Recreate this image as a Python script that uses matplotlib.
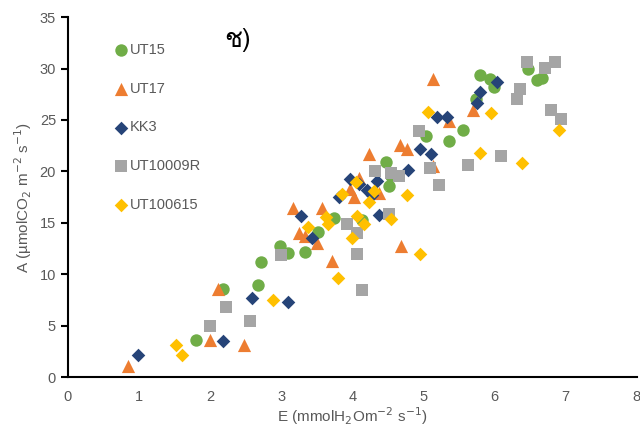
import matplotlib
matplotlib.use("Agg")
import matplotlib.pyplot as plt
from matplotlib import font_manager
from matplotlib.ft2font import FT2Font

# data (E, A)
ut15_x = [1.80, 2.18, 2.67, 2.72, 2.98, 3.10, 3.34, 3.52, 3.74, 4.14, 4.47, 4.51, 4.54,
          5.03, 5.36, 5.56, 5.74, 5.80, 5.94, 5.99, 6.47, 6.59, 6.67]
ut15_y = [3.6, 8.6, 9.0, 11.2, 12.7, 12.1, 12.2, 14.1, 15.5, 15.3, 20.9, 18.6, 19.6,
          23.4, 23.0, 24.0, 27.0, 29.4, 29.0, 28.2, 30.0, 28.9, 29.1]

ut17_x = [0.85, 2.00, 2.11, 2.48, 3.17, 3.25, 3.34, 3.50, 3.58, 3.72, 3.97, 4.02, 4.10,
          4.23, 4.37, 4.67, 4.69, 4.77, 5.14, 5.14, 5.36, 5.69]
ut17_y = [1.1, 3.6, 8.6, 3.1, 16.4, 14.0, 13.7, 13.0, 16.4, 11.3, 18.3, 17.5, 19.4,
          21.7, 17.9, 22.6, 12.7, 22.2, 20.5, 29.0, 24.9, 26.0]

kk3_x = [0.99, 2.18, 2.59, 3.09, 3.28, 3.44, 3.81, 3.97, 4.10, 4.21, 4.28, 4.35, 4.37,
         4.78, 4.95, 5.10, 5.19, 5.33, 5.76, 5.80, 6.03]
kk3_y = [2.1, 3.5, 7.7, 7.3, 15.7, 13.5, 17.5, 19.3, 18.8, 18.2, 17.7, 19.1, 15.8,
         20.1, 22.2, 21.7, 25.3, 25.3, 26.7, 27.7, 28.7]

ut10009r_x = [2.00, 2.22, 2.56, 3.00, 3.93, 4.07, 4.07, 4.13, 4.32, 4.51, 4.54, 4.65,
              4.94, 5.09, 5.22, 5.63, 6.09, 6.32, 6.36, 6.45, 6.71, 6.79, 6.85, 6.93]
ut10009r_y = [5.0, 6.8, 5.5, 11.9, 14.9, 14.0, 12.0, 8.5, 20.0, 15.9, 19.8, 19.6,
              23.9, 20.3, 18.7, 20.6, 21.5, 27.0, 28.0, 30.6, 30.1, 26.0, 30.6, 25.1]

ut100615_x = [1.52, 1.61, 2.88, 3.37, 3.63, 3.66, 3.80, 3.85, 3.99, 4.05, 4.07, 4.16,
              4.24, 4.31, 4.55, 4.77, 4.95, 5.07, 5.80, 5.95, 6.39, 6.91]
ut100615_y = [3.1, 2.1, 7.5, 14.6, 15.6, 14.9, 9.6, 17.8, 13.5, 19.0, 15.7, 14.9,
              17.0, 18.1, 15.35, 17.7, 12.0, 25.8, 21.8, 25.7, 20.8, 24.0]

series = [
    ("UT15", ut15_x, ut15_y, "o", "#70AD47", 80),
    ("UT17", ut17_x, ut17_y, "^", "#ED7D31", 90),
    ("KK3", kk3_x, kk3_y, "D", "#264478", 48),
    ("UT10009R", ut10009r_x, ut10009r_y, "s", "#A5A5A5", 72),
    ("UT100615", ut100615_x, ut100615_y, "D", "#FFC000", 48),
]


def thai_font():
    for f in font_manager.fontManager.ttflist:
        try:
            if 0x0E0A in FT2Font(f.fname).get_charmap():
                return f.name
        except Exception:
            pass
    return "DejaVu Sans"


plt.rcParams['font.family'] = ['Liberation Sans', 'DejaVu Sans']
grey = "#595959"

fig = plt.figure(figsize=(6.4, 4.29), dpi=100)
ax = fig.add_axes([0.106, 0.121, 0.889, 0.839])

for name, xs, ys, m, c, s in series:
    ax.scatter(xs, ys, marker=m, s=s, color=c, label=name, linewidths=0, zorder=3)

ax.set_xlim(0, 8)
ax.set_ylim(0, 35)
ax.set_xticks(range(0, 9))
ax.set_yticks(range(0, 36, 5))
for side in ("top", "right"):
    ax.spines[side].set_visible(False)
ax.spines["left"].set_linewidth(1.5)
ax.spines["bottom"].set_linewidth(1.5)
ax.tick_params(axis="y", length=5, width=1.5, colors="black", labelcolor=grey, labelsize=10.5)
ax.tick_params(axis="x", length=0, labelcolor=grey, labelsize=10.5, pad=9)

ax.set_xlabel("E (mmolH$_2$Om$^{-2}$ s$^{-1}$)", color=grey, fontsize=11, labelpad=1)
ax.set_ylabel("A (µmolCO$_2$ m$^{-2}$ s$^{-1}$)", color=grey, fontsize=11, labelpad=4)

leg = ax.legend(loc="upper left", bbox_to_anchor=(0.07, 0.945), frameon=False,
                fontsize=10.5, labelspacing=1.7, handletextpad=0.1,
                handlelength=1.0, borderaxespad=0)
for t in leg.get_texts():
    t.set_color(grey)

fig.text(238 / 640, 1 - 40 / 429, "ช)", fontsize=19, ha="center", va="center",
         family=[thai_font(), 'DejaVu Sans'])

fig.savefig("out.png", dpi=100)
